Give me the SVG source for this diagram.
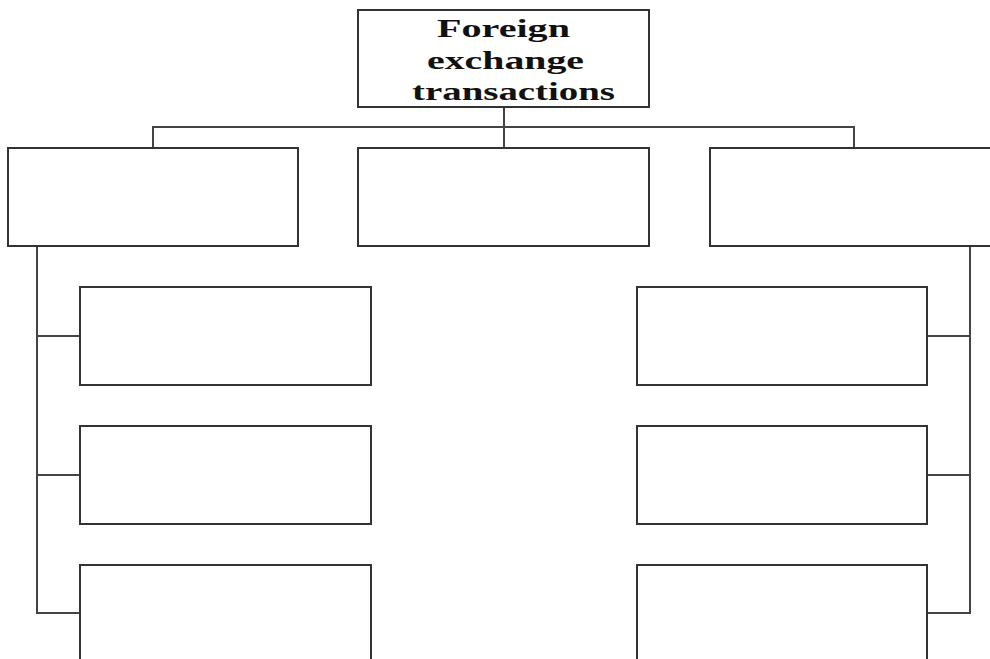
<svg xmlns="http://www.w3.org/2000/svg" width="990" height="659" viewBox="0 0 990 659">
  <style>
    .box { fill: #ffffff; stroke: #333333; stroke-width: 2; }
    .link { fill: none; stroke: #444444; stroke-width: 2; }
    .title { font-family: "Liberation Serif", "Times New Roman", serif; font-weight: bold; font-size: 26px; fill: #111111; }
  </style>
  <rect width="990" height="659" fill="#ffffff"/>

  <!-- connectors -->
  <g id="connectors">
    <path class="link" d="M504 107 V148"/>
    <path class="link" d="M153 148 V127 H854 V148"/>
    <path class="link" d="M37 246 V613 H80"/>
    <path class="link" d="M37 336 H80"/>
    <path class="link" d="M37 475 H80"/>
    <path class="link" d="M970 246 V613 H927"/>
    <path class="link" d="M970 336 H927"/>
    <path class="link" d="M970 475 H927"/>
  </g>

  <!-- root -->
  <g id="root">
    <rect class="box" x="358" y="10" width="291" height="97"/>
    <text class="title" x="437" y="37" textLength="133" lengthAdjust="spacingAndGlyphs">Foreign</text>
    <text class="title" x="427" y="69" textLength="157" lengthAdjust="spacingAndGlyphs">exchange</text>
    <text class="title" x="412" y="100" textLength="203" lengthAdjust="spacingAndGlyphs">transactions</text>
  </g>

  <!-- second level -->
  <g id="left"><rect class="box" x="8" y="148" width="290" height="98"/></g>
  <g id="middle"><rect class="box" x="358" y="148" width="291" height="98"/></g>
  <g id="right"><rect class="box" x="710" y="148" width="300" height="98"/></g>

  <!-- left branch -->
  <g id="left-1"><rect class="box" x="80" y="287" width="291" height="98"/></g>
  <g id="left-2"><rect class="box" x="80" y="426" width="291" height="98"/></g>
  <g id="left-3"><rect class="box" x="80" y="565" width="291" height="120"/></g>

  <!-- right branch -->
  <g id="right-1"><rect class="box" x="637" y="287" width="290" height="98"/></g>
  <g id="right-2"><rect class="box" x="637" y="426" width="290" height="98"/></g>
  <g id="right-3"><rect class="box" x="637" y="565" width="290" height="120"/></g>
</svg>
